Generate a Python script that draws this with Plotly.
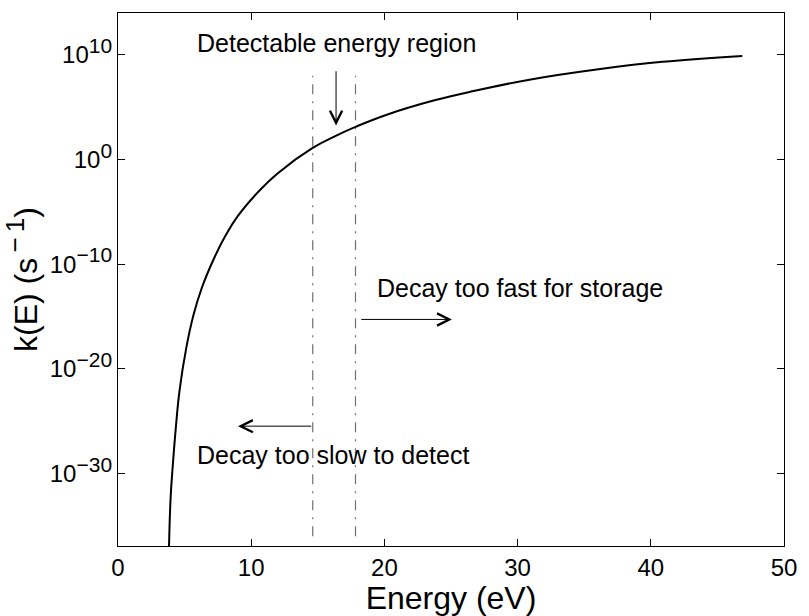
import plotly.graph_objects as go

# Unimolecular decay rate k(E) versus internal energy (log10 of k in s^-1)
energy_ev = [3.83, 3.956, 4.126, 4.326, 4.622, 5.133, 5.681, 6.296, 7.222, 8.074,
             9.015, 10.496, 11.978, 14.644, 16.422, 17.83, 20.126, 23.83, 26.79,
             30.99, 35.93, 40.87, 46.87]
log10_rate = [-36.93, -32.18, -29.02, -25.85, -22.06, -17.95, -14.79, -12.25, -9.41, -7.27,
              -5.37, -3.13, -1.33, 1.13, 2.31, 3.12, 4.26, 5.68, 6.57,
              7.65, 8.60, 9.33, 9.90]
rate = [10 ** v for v in log10_rate]

# Boundaries of the detectable energy window (eV)
window_bounds = [14.62, 17.83]
window_log10_span = [-36.0, 8.0]

x_ticks = [0, 10, 20, 30, 40, 50]
y_tick_exps = [-30, -20, -10, 0, 10]
y_tick_text = ["10<sup><span style='font-size:21px'>%s</span></sup>"
               % (str(e).replace("-", "\u2212")) for e in y_tick_exps]

FONT = "Liberation Sans, Arial, Helvetica, sans-serif"

fig = go.Figure()

for xb in window_bounds:
    fig.add_trace(go.Scatter(
        x=[xb, xb], y=[10 ** window_log10_span[0], 10 ** window_log10_span[1]],
        mode="lines", line=dict(color="#707070", width=1.2, dash="10px,7px,2px,7px"),
        hoverinfo="skip", showlegend=False))

fig.add_trace(go.Scatter(
    x=energy_ev, y=rate, mode="lines",
    line=dict(color="black", width=2, shape="spline", smoothing=1.2),
    showlegend=False))

ann_font = dict(family=FONT, size=25, color="black")
arrow_style = dict(showarrow=True, arrowhead=5, arrowsize=2.4, arrowwidth=1,
                   arrowcolor="black", text="", axref="x", ayref="y")

annotations = [
    # labels
    dict(x=5.76, y=11.1, text="Detectable energy region", showarrow=False,
         xanchor="left", yanchor="middle", font=ann_font),
    dict(x=19.33, y=-12.27, text="Decay too fast for storage", showarrow=False,
         xanchor="left", yanchor="middle", font=ann_font),
    dict(x=5.77, y=-28.2, text="Decay too slow to detect", showarrow=False,
         xanchor="left", yanchor="middle", font=ann_font),
    # arrows
    dict(x=16.37, y=3.25, ax=16.37, ay=8.58, **arrow_style),
    dict(x=25.07, y=-15.28, ax=18.15, ay=-15.28, **arrow_style),
    dict(x=9.01, y=-25.48, ax=14.62, ay=-25.48, **arrow_style),
]

fig.update_layout(
    width=809, height=616,
    margin=dict(l=118, r=16, t=13, b=66),
    paper_bgcolor="white", plot_bgcolor="white",
    font=dict(family=FONT, size=24, color="black"),
    annotations=annotations,
    xaxis=dict(
        range=[0, 50], tickvals=x_ticks, ticks="inside", ticklen=7,
        tickcolor="black", showline=True, linecolor="black", linewidth=1.2,
        mirror="ticks", showgrid=False, zeroline=False,
        tickfont=dict(family=FONT, size=24),
        title=dict(text="Energy (eV)", font=dict(family=FONT, size=32), standoff=1),
    ),
    yaxis=dict(
        type="log", range=[-36.93, 14.0], tickvals=[10 ** e for e in y_tick_exps],
        ticktext=y_tick_text, ticks="inside", ticklen=7, tickcolor="black",
        showline=True, linecolor="black", linewidth=1.2, mirror="ticks",
        showgrid=False, zeroline=False,
        tickfont=dict(family=FONT, size=24),
        title=dict(text="k(E) (s<sup><span style='font-size:26px'>\u2009\u2212\u20091</span></sup>)",
                   font=dict(family=FONT, size=32), standoff=6),
    ),
)

fig.write_html("out.html")
